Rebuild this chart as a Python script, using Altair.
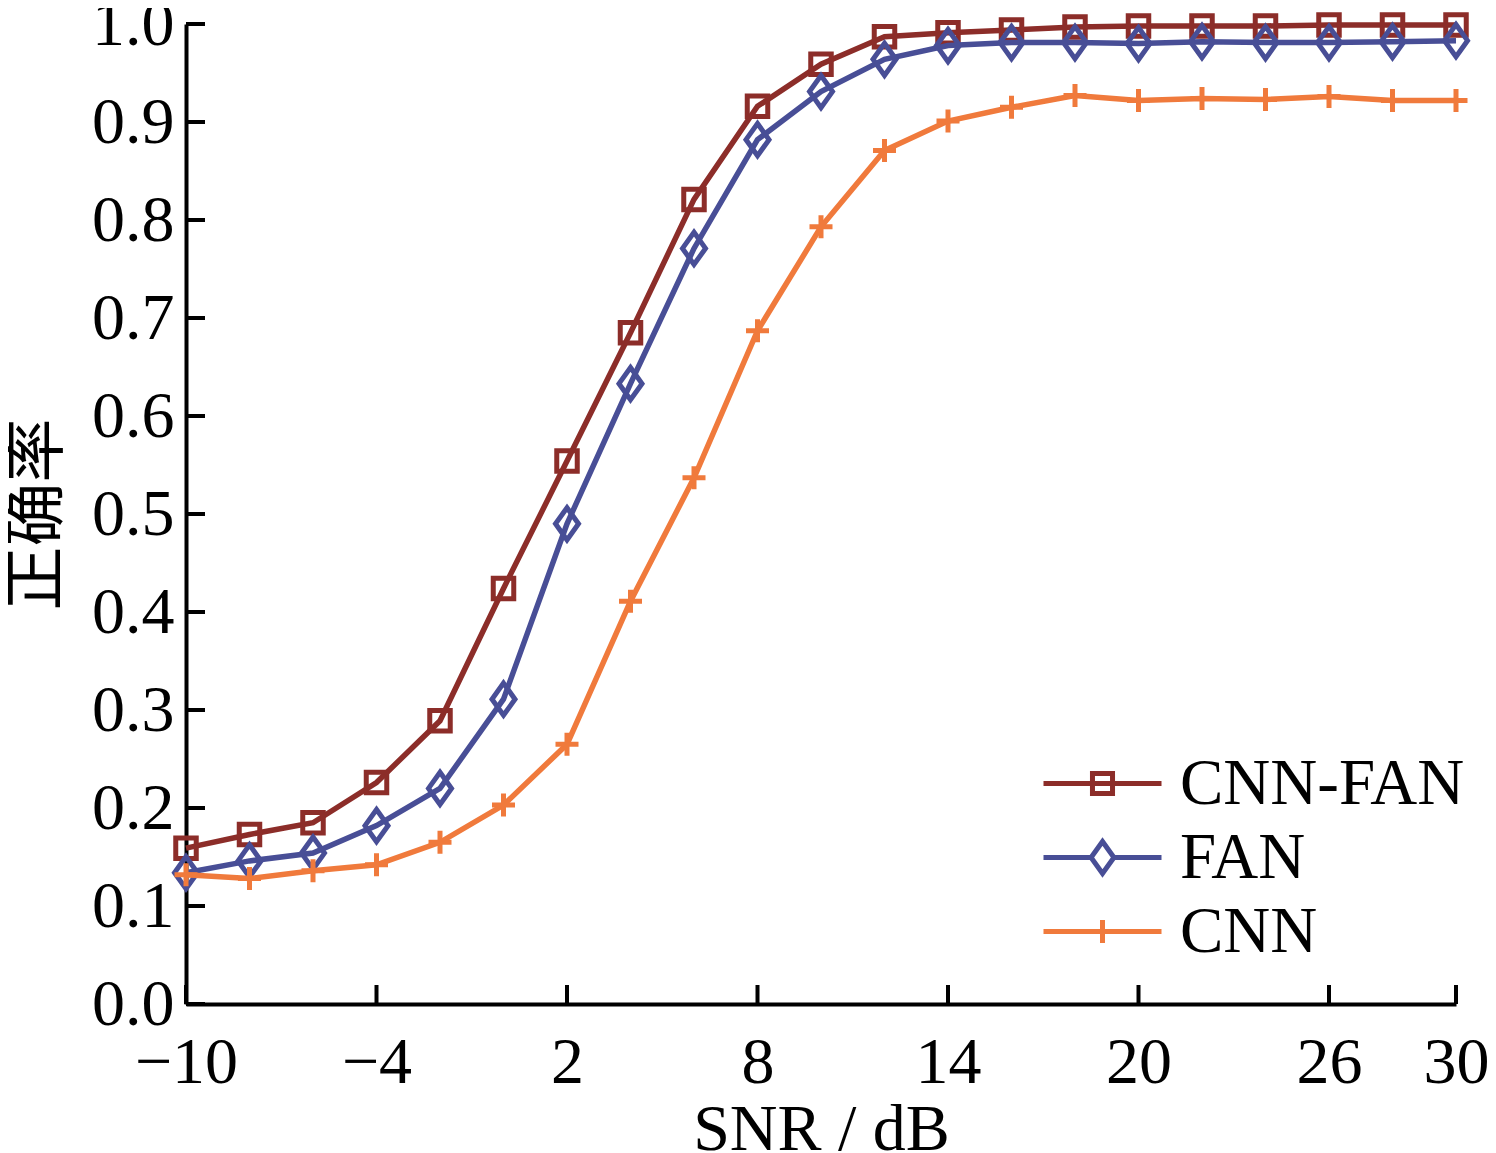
import altair as alt
import pandas as pd

snr = [-10, -8, -6, -4, -2, 0, 2, 4, 6, 8, 10, 12, 14, 16, 18, 20, 22, 24, 26, 28, 30]
cnn_fan = [0.159, 0.173, 0.185, 0.226, 0.289, 0.424, 0.554, 0.685, 0.821, 0.916, 0.959,
           0.987, 0.991, 0.994, 0.997, 0.998, 0.998, 0.998, 0.999, 0.999, 0.999]
fan = [0.134, 0.146, 0.154, 0.182, 0.220, 0.311, 0.490, 0.633, 0.771, 0.882, 0.931,
       0.964, 0.978, 0.981, 0.981, 0.980, 0.982, 0.981, 0.981, 0.982, 0.983]
cnn = [0.132, 0.128, 0.136, 0.142, 0.165, 0.203, 0.265, 0.411, 0.537, 0.687, 0.793,
       0.871, 0.901, 0.915, 0.927, 0.922, 0.924, 0.923, 0.926, 0.922, 0.922]

names = ["CNN-FAN", "FAN", "CNN"]
colors = ["#8C2D29", "#484E96", "#F07A3C"]
marker_paths = [
    "M-1,-1L1,-1L1,1L-1,1Z",
    "M0,-1.4L1,0L0,1.4L-1,0Z",
    "M-1,0L1,0M0,-1L0,1",
]
marker_sizes = [420, 529, 529]
legend_paths = [
    "M-5,0L5,0M-0.85,-0.85L0.85,-0.85L0.85,0.85L-0.85,0.85Z",
    "M-5,0L-0.97,0M0.97,0L5,0M0,-1.36L0.97,0L0,1.36L-0.97,0Z",
    "M-5,0L5,0M0,-0.97L0,0.97",
]
x_ticks = [-10, -4, 2, 8, 14, 20, 26, 30]
y_ticks = [0.0, 0.1, 0.2, 0.3, 0.4, 0.5, 0.6, 0.7, 0.8, 0.9, 1.0]

rows = []
for name, vals in zip(names, [cnn_fan, fan, cnn]):
    for s, v in zip(snr, vals):
        rows.append({"snr": s, "acc": v, "series": name})
df = pd.DataFrame(rows)

W, H = 1270, 980
serif = "Liberation Serif"

xscale = alt.Scale(domain=[-10, 30], nice=False, zero=False)
yscale = alt.Scale(domain=[0, 1], nice=False, zero=False)

xenc = alt.X("snr:Q", scale=xscale,
             axis=alt.Axis(values=x_ticks, title="SNR / dB", grid=False, tickSize=0,
                           labelPadding=26, titlePadding=2, labelFlush=False))
yenc = alt.Y("acc:Q", scale=yscale,
             axis=alt.Axis(values=y_ticks, format=".1f", title="正确率", grid=False,
                           tickSize=0, labelPadding=12, titlePadding=22,
                           titleFont="Noto Sans CJK SC", titleFontSize=64,
                           titleFontWeight="normal", labelFlush=False))

base = alt.Chart(df)
layers = []
for name, col, path, sz in zip(names, colors, marker_paths, marker_sizes):
    sub = base.transform_filter(alt.datum.series == name)
    layers.append(sub.mark_line(color=col, strokeWidth=5.5).encode(x=xenc, y=yenc))
    layers.append(sub.mark_point(shape=path, size=sz, filled=False, color=col,
                                 strokeWidth=5, opacity=1).encode(x="snr:Q", y="acc:Q"))

leg = alt.Legend(title=None, orient="none", legendX=884, legendY=727,
                 labelFont=serif, labelFontSize=65, labelColor="black", labelLimit=0,
                 symbolSize=557, symbolStrokeWidth=5, labelOffset=45,
                 rowPadding=8, symbolFillColor="transparent", symbolOpacity=1)
legend_layer = base.transform_filter("false").mark_point(
    filled=False, size=557, strokeWidth=5, opacity=1).encode(
    shape=alt.Shape("series:N", scale=alt.Scale(domain=names, range=legend_paths), legend=leg),
    color=alt.Color("series:N", scale=alt.Scale(domain=names, range=colors), legend=leg),
)
layers.append(legend_layer)

tick_df = pd.DataFrame({"v": y_ticks})
xt_df = pd.DataFrame({"v": x_ticks})
ytick_layer = alt.Chart(tick_df).mark_rule(color="black", strokeWidth=4).encode(
    y=alt.Y("v:Q", scale=yscale), x=alt.value(0), x2=alt.value(19))
xtick_layer = alt.Chart(xt_df).mark_rule(color="black", strokeWidth=4).encode(
    x=alt.X("v:Q", scale=xscale), y=alt.value(H), y2=alt.value(H - 19))
layers += [ytick_layer, xtick_layer]

chart = alt.layer(*layers).properties(
    width=W, height=H,
    autosize=alt.AutoSizeParams(type="none"),
    padding={"left": 178, "top": 16, "right": 32, "bottom": 160},
).configure_view(stroke=None).configure_axis(
    domainColor="black", domainWidth=4, labelFont=serif, labelFontSize=66,
    labelColor="black", titleFont=serif, titleFontSize=66, titleColor="black",
    titleFontWeight="normal",
)

chart.save("out.html", embed_options={"renderer": "svg", "actions": False})
